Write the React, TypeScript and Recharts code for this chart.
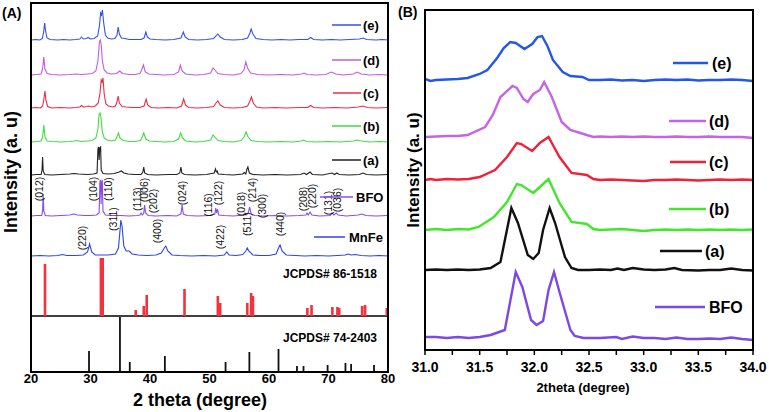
import React from 'react';
import { ComposedChart, LineChart, Line, Scatter, XAxis, YAxis, ReferenceLine } from 'recharts';

type Pt = [number, number];

// ---- panel A: full patterns, 2theta vs intensity above each trace's own baseline
const aTicks = [20, 30, 40, 50, 60, 70, 80];

const eA: Pt[] = [[20,0],[20.8,0.5],[21.5,0],[21.9,1.5],[22.1,7],[22.3,17],[22.45,9],[22.7,2],[23.2,0.5],[24.5,0],[25.5,0.5],[26.5,0],[27.5,0.5],[28.2,1],[28.5,3],[28.8,1],[29.3,1.5],[29.6,2.5],[30,1],[30.6,1.5],[31.2,4],[31.5,14],[31.7,27],[31.85,25],[32,30],[32.2,18],[32.5,5],[32.9,2],[33.5,1],[34.1,1.5],[34.45,5],[34.65,13],[34.85,6],[35.2,2],[35.8,1.5],[36.5,0.5],[37.5,0.5],[38.5,0.5],[39,2],[39.3,8],[39.55,3],[40,1],[41,0.5],[42.5,0],[44,0.5],[45.2,2],[45.6,8],[45.9,3],[46.5,0.5],[48,0],[49.5,0.5],[50.7,1.5],[51.1,4],[51.4,6],[51.8,3],[52.5,0.5],[54,0],[55.5,0.5],[56.4,2],[56.8,7],[57,11],[57.3,6],[57.8,1.5],[59,0.5],[60.5,0],[62,0.5],[63.5,0],[65,0.5],[66.5,0.5],[67,2.5],[67.5,0.5],[69,0],[70.5,0.5],[72,0],[73.5,0.5],[75.2,1],[75.8,2],[76.4,0.5],[78,0],[79,0.5],[80,0]];
const dA: Pt[] = [[20,0],[21,0.5],[21.7,1],[21.95,6],[22.15,18],[22.35,6],[22.7,1.5],[23.5,0.5],[25,0],[26.5,0.5],[27.5,1],[28.5,0.5],[29.5,1],[30.3,1.5],[30.9,4],[31.25,14],[31.5,33],[31.65,35],[31.8,30],[32,14],[32.3,5],[32.8,2],[33.5,1],[34.4,1.5],[34.9,4],[35.4,1.5],[36.5,0.5],[37.5,0.5],[38.3,1.5],[38.6,5],[38.9,10],[39.2,3],[39.8,1],[41,0.5],[42.5,0],[44,0.5],[44.8,3],[45.1,10],[45.4,4],[46,1],[47.5,0],[49,0.5],[50.2,2],[50.6,7],[50.9,5],[51.4,1.5],[52.5,0.5],[54,0],[55.3,1.5],[55.8,5],[56.1,13],[56.4,7],[56.9,2],[58,0.5],[60,0],[62,0.5],[64,0],[65.5,1],[65.9,2],[66.4,0.5],[68,0],[69.5,0.5],[70.5,3],[71.2,1],[72.5,0],[74.2,1],[74.8,3],[75.5,1],[77,0],[78.5,0.5],[80,0]];
const cA: Pt[] = [[20,0],[20.8,0.5],[21.6,0],[21.95,2],[22.15,8],[22.35,17],[22.5,8],[22.8,1.5],[23.5,0],[25,0.5],[26.5,0],[27.5,0.5],[28.2,1],[28.5,2.5],[28.8,1],[29.4,1.5],[29.7,2],[30.2,1],[30.8,2],[31.3,5],[31.6,15],[31.8,28],[31.95,26],[32.1,30],[32.3,14],[32.6,4],[33,2],[33.7,1],[34.2,2],[34.45,6],[34.65,12],[34.85,5],[35.3,1.5],[36,1],[37,0.5],[38.3,0.5],[39,2],[39.35,9],[39.6,3],[40.2,0.5],[41.5,0],[43,0.5],[44.5,0],[45.3,2],[45.65,9],[45.95,3],[46.5,0.5],[48,0],[49.5,0.5],[50.7,1.5],[51.1,5],[51.4,7],[51.8,3],[52.5,0.5],[54,0],[55.5,0.5],[56.4,2],[56.8,7],[57.05,11],[57.35,5],[57.9,1],[59,0],[61,0.5],[63,0],[65,0.5],[66.5,0.5],[67,2.5],[67.5,0.5],[69,0],[71,0.5],[73,0],[75,1],[75.8,2],[76.5,0.5],[78,0],[80,0.5]];
const bA: Pt[] = [[20,0],[21,0.5],[21.7,1],[21.95,5],[22.15,17],[22.35,5],[22.7,1],[23.5,0.5],[25,0],[26.5,0.5],[27.2,1],[27.6,1.5],[28.5,0.5],[29.5,1],[30.3,1.5],[30.9,4],[31.25,13],[31.45,28],[31.6,29],[31.75,25],[32,10],[32.3,4],[32.8,2],[33.5,1],[34.2,2],[34.5,6],[34.7,9],[34.95,4],[35.5,1.5],[36.5,0.5],[37.5,0.5],[38.4,1.5],[38.7,5],[38.95,9],[39.3,3],[39.9,1],[41,0.5],[42.5,0],[44,0.5],[44.8,3],[45.15,9],[45.45,4],[46,1],[47.5,0],[49,0.5],[50.2,2],[50.6,7],[50.9,5],[51.4,1.5],[52.5,0.5],[54,0],[55.3,1.5],[55.8,5],[56.15,10],[56.5,5],[57,1.5],[58,0.5],[60,0],[62,0.5],[64,0],[65.4,1],[65.8,2],[66.3,0.5],[68,0],[70,0.5],[72,0],[74.2,1],[74.8,2],[75.5,1],[77,0],[78.5,0.5],[80,0]];
const aA: Pt[] = [[20,0],[21,0.5],[21.7,0.5],[21.85,5],[21.95,18],[22.05,4],[22.3,0.5],[23.5,0],[25,0.5],[26.5,1],[27.3,1.5],[28,1],[29.5,0.5],[30.5,1],[31.1,2],[31.25,26],[31.35,28],[31.45,15],[31.55,27],[31.7,28],[31.8,5],[32.1,1.5],[33,1],[34,1.5],[34.8,3],[35.2,4],[35.6,2],[36.3,1],[37.5,0.5],[38.5,0.5],[38.8,3],[38.95,8],[39.1,2],[39.6,0.5],[41,0],[43,0.5],[44.5,0.5],[45,2],[45.2,8],[45.35,2],[45.8,0.5],[47.5,0],[49.5,0.5],[50.8,2],[51,6],[51.15,3],[51.3,4],[51.45,1],[52.5,0.5],[54,0],[55.6,1],[55.85,2.5],[56.1,1],[56.3,6],[56.45,8],[56.7,2],[57.3,0.5],[59,0],[61,0.5],[63,0],[65.3,0.5],[65.9,2],[66.3,0.5],[66.9,3],[67.3,0.5],[69,0],[70.6,2],[71,0.5],[71.4,2],[71.8,0.5],[73.5,0],[75.2,0.5],[75.8,2],[76.4,0.5],[78,0],[80,0.5]];
const bfoA: Pt[] = [[20,0],[21,0.5],[21.8,0.5],[21.95,5],[22.05,22],[22.15,5],[22.4,0.5],[23.5,0],[25,0.5],[26.5,1],[27.2,2],[27.8,1],[29,0.5],[30,0.5],[31,1],[31.45,3],[31.58,34],[31.68,36],[31.78,12],[31.88,34],[31.98,36],[32.1,5],[32.5,1],[33.5,0.5],[35,0.5],[36.5,0],[37.8,0.5],[38.3,1],[38.5,3],[38.7,1],[38.95,3],[39.1,11],[39.25,3],[39.7,0.5],[41,0],[43,0.5],[44.5,0],[45.2,2],[45.4,11],[45.6,2],[46.2,0.5],[48,0],[50,0.5],[50.9,2],[51.05,8],[51.2,3],[51.35,7],[51.55,1],[52.5,0.5],[54,0],[55.7,1],[55.95,3],[56.15,1],[56.5,3],[56.75,9],[57,2],[57.6,0.5],[59,0],[61,0.5],[63,0],[65,0.5],[66.2,1],[66.4,3],[66.6,1],[66.9,4],[67.2,1],[68.5,0],[70.3,0.5],[70.6,3],[70.9,1],[71.3,3],[71.6,1],[73,0],[75,1],[75.6,2],[76.3,0.5],[78,0],[80,0.5]];
const mnfeA: Pt[] = [[20,0],[21.5,0.5],[23,0],[24.5,0.5],[25.3,1.5],[26,0.5],[27.5,0.5],[28.8,1],[29.5,4],[29.85,12],[30.2,4],[30.8,1],[31.8,1],[33,1],[34.2,2],[34.7,8],[34.95,25],[35.1,36],[35.3,30],[35.6,10],[36,5],[36.5,5],[37,2],[38,1],[39.5,0.5],[41,1],[41.9,3],[42.4,8],[42.65,10],[43,5],[43.7,1],[45,0.5],[47,0],[49,0.5],[51,0],[52.5,1],[52.9,4],[53.3,1],[54.5,0.5],[55.6,1.5],[56.1,5],[56.35,8],[56.6,5],[57.3,1],[58.5,0.5],[60,0.5],[61.2,2],[61.6,8],[61.85,11],[62.2,5],[62.9,1],[64.5,0.5],[66,0],[68,0.5],[70,0],[71.5,0.5],[72.8,1],[73.3,2],[73.8,1],[74.5,1.5],[75.5,0.5],[77,0],[78.5,0.5],[80,0]];

// reference cards: [2theta, relative height]
const jcpds86: Pt[] = [[22.35,52],[31.75,58],[32.05,58],[37.6,6],[38.95,10],[39.45,21],[45.8,27],[51.4,20],[51.8,13],[56.35,13],[57,23],[57.3,20],[66.45,8],[67.15,11],[70.65,9],[71.5,9],[71.8,8],[75.65,10],[76.15,11],[79.8,8]];
const jcpds74: Pt[] = [[29.75,21],[34.95,55],[36.6,10],[42.5,16],[52.7,10],[56.7,20],[61.6,23],[64.7,6],[65.8,6],[69.85,7],[72.85,9],[73.8,8],[77.65,7]];

// miller indices: [2theta, height, label]
const bfoHkl: [number, number, string][] = [[21.3,183,'(012)'],[30.5,183,'(104)'],[33,183,'(110)'],[37.75,173,'(113)'],[39,182,'(006)'],[40.55,171,'(202)'],[45.3,179,'(024)'],[49.8,167,'(116)'],[51.5,179,'(122)'],[55.25,168,'(018)'],[57.1,182,'(214)'],[58.8,166,'(300)'],[65.75,173,'(208)'],[67.2,176,'(220)'],[69.95,169,'(131)'],[71.4,172,'(036)']];
const mnfeHkl: [number, number, string][] = [[28.5,134,'(220)'],[33.8,153,'(311)'],[41.1,141,'(400)'],[51.75,135,'(422)'],[56.25,148,'(511)'],[61.85,148,'(440)']];

// ---- panel B: zoom on the (104)/(110) doublet
const bTicks = [31, 31.25, 31.5, 31.75, 32, 32.25, 32.5, 32.75, 33, 33.25, 33.5, 33.75, 34];

const eB: Pt[] = [[31,1],[31.05,-1],[31.1,0],[31.2,0.5],[31.3,1],[31.39,2],[31.5,6],[31.57,10],[31.66,22],[31.72,32],[31.78,38],[31.83,37],[31.91,31],[31.98,36],[32.03,43],[32.07,44],[32.12,34],[32.17,20],[32.26,8],[32.33,4],[32.44,3],[32.5,0],[32.6,0],[32.7,0.5],[32.8,-0.5],[32.9,0],[33,-1],[33.1,0],[33.2,0.5],[33.3,0],[33.4,0.5],[33.5,-0.5],[33.6,0],[33.7,0],[33.8,0.5],[33.9,0],[34,-1]];
const dB: Pt[] = [[31,0],[31.1,0.5],[31.2,1],[31.3,1],[31.39,2],[31.55,10],[31.62,22],[31.69,40],[31.8,51],[31.84,49],[31.9,38],[31.94,35],[31.99,43],[32.05,47],[32.09,55],[32.16,40],[32.25,15],[32.33,7],[32.48,2],[32.54,0],[32.6,0.5],[32.7,0],[32.8,0.5],[32.9,0],[33,0.5],[33.1,0],[33.2,0],[33.3,0.5],[33.4,0],[33.5,0],[33.6,0.5],[33.7,0],[33.8,0],[33.9,0],[34,-1]];
const cB: Pt[] = [[31,0],[31.05,1],[31.1,0],[31.2,1],[31.3,0.5],[31.4,1],[31.5,3],[31.64,10],[31.75,23],[31.84,37],[31.88,36],[31.98,29],[32.05,37],[32.13,43],[32.23,23],[32.34,7],[32.48,5],[32.54,1],[32.6,0],[32.7,0.5],[32.8,0],[32.9,-0.5],[33,-1],[33.1,0],[33.2,0],[33.3,0.5],[33.4,0],[33.5,-0.5],[33.6,0],[33.7,0.5],[33.8,0],[33.9,0.5],[34,0]];
const bB: Pt[] = [[31,0],[31.1,1],[31.2,0],[31.3,1],[31.4,0.5],[31.49,3],[31.63,13],[31.75,28],[31.84,46],[31.88,45],[31.99,37],[32.05,43],[32.13,51],[32.23,27],[32.34,8],[32.48,6],[32.54,1],[32.6,0],[32.7,0.5],[32.8,1],[32.9,0],[33,-1],[33.1,0],[33.2,0.5],[33.3,0],[33.4,0.5],[33.5,0],[33.6,0.5],[33.7,0],[33.8,0.5],[33.9,0],[34,0.5]];
const aB: Pt[] = [[31,0],[31.1,0.5],[31.2,0],[31.3,0.5],[31.4,0],[31.5,0.5],[31.6,2],[31.69,8],[31.79,62],[31.85,47],[31.94,15],[31.99,11],[32.04,17],[32.08,40],[32.14,62],[32.19,47],[32.28,13],[32.34,2],[32.4,0],[32.5,0],[32.6,0.5],[32.7,0],[32.76,1.5],[32.82,0],[32.9,2],[33,0.5],[33.1,0],[33.2,0.5],[33.28,2],[33.35,0],[33.5,-0.5],[33.6,0],[33.7,0],[33.8,1.5],[33.9,0],[34,-0.5]];
const bfoB: Pt[] = [[31,1],[31.1,1],[31.2,0],[31.3,1],[31.4,0],[31.5,1],[31.6,3],[31.73,8],[31.83,66],[31.89,51],[31.97,18],[32.02,13],[32.08,17],[32.13,48],[32.18,66],[32.23,46],[32.33,8],[32.37,2],[32.45,0],[32.6,0],[32.75,1],[32.8,-1],[32.9,1.5],[33,0],[33.1,0],[33.2,-1],[33.3,0.5],[33.4,-1],[33.5,-1],[33.6,-0.5],[33.7,-1],[33.8,0.5],[33.9,-1],[34,-2]];

const FONT = 'Arial, "Liberation Sans", sans-serif';

const shift = (pts: Pt[], base: number) => pts.map(([x, y]) => ({ x, y: y + base }));
const sticks = (pts: Pt[], base: number) =>
  pts.flatMap(([x, h]) => [{ x, y: base }, { x, y: base + h }, { x, y: null }]);
const hkl = (rows: [number, number, string][]) => rows.map(([x, y, t]) => ({ x, y, t }));

const HklLabel = (p: any) => (
  <text
    x={p.cx}
    y={p.cy}
    transform={`rotate(-90 ${p.cx} ${p.cy})`}
    textAnchor="middle"
    dominantBaseline="central"
    fontSize={10.5}
    fontFamily={FONT}
    fill="#111"
  >
    {p.payload.t}
  </text>
);

const seriesA = [
  { key: 'e', data: eA, base: 332, color: '#3251e6' },
  { key: 'd', data: dA, base: 297, color: '#c25be0' },
  { key: 'c', data: cA, base: 264, color: '#f02a45' },
  { key: 'b', data: bA, base: 230, color: '#3fdd3f' },
  { key: 'a', data: aA, base: 197, color: '#222222' },
  { key: 'bfo', data: bfoA, base: 156, color: '#8a4be8' },
  { key: 'mnfe', data: mnfeA, base: 116, color: '#2f45e3' },
];

const seriesB = [
  { key: 'e', data: eB, base: 270, color: '#2457e8' },
  { key: 'd', data: dB, base: 213, color: '#c565e3' },
  { key: 'c', data: cB, base: 170, color: '#ee2238' },
  { key: 'b', data: bB, base: 120, color: '#43e62d' },
  { key: 'a', data: aB, base: 80, color: '#111111' },
  { key: 'bfo', data: bfoB, base: 12, color: '#7c48e6' },
];

const legendA = [
  { label: '(e)', color: '#3251e6', x1: 332, x2: 361, y: 25, tx: 363 },
  { label: '(d)', color: '#c25be0', x1: 332, x2: 361, y: 60, tx: 363 },
  { label: '(c)', color: '#f02a45', x1: 333, x2: 361, y: 93, tx: 363 },
  { label: '(b)', color: '#3fdd3f', x1: 332, x2: 361, y: 126, tx: 363 },
  { label: '(a)', color: '#222222', x1: 332, x2: 361, y: 160, tx: 363 },
  { label: 'BFO', color: '#8a4be8', x1: 320, x2: 353, y: 197, tx: 356 },
  { label: 'MnFe', color: '#2f45e3', x1: 314, x2: 345, y: 237, tx: 349 },
];

const legendB = [
  { label: '(e)', color: '#2457e8', x1: 673, x2: 708, y: 63, tx: 712 },
  { label: '(d)', color: '#c565e3', x1: 669, x2: 706, y: 121, tx: 709 },
  { label: '(c)', color: '#ee2238', x1: 670, x2: 706, y: 162, tx: 709 },
  { label: '(b)', color: '#43e62d', x1: 669, x2: 706, y: 209, tx: 709 },
  { label: '(a)', color: '#111111', x1: 660, x2: 702, y: 251, tx: 705 },
  { label: 'BFO', color: '#7c48e6', x1: 655, x2: 705, y: 307, tx: 709 },
];

export default function App() {
  return (
    <div style={{ position: 'absolute', left: 0, top: 0, width: 769, height: 412, background: '#fff', fontFamily: FONT }}>
      <div style={{ position: 'absolute', left: 0, top: 0 }}>
        <ComposedChart width={400} height={412} margin={{ top: 3, right: 12, bottom: 0, left: 31 }}>
          <XAxis
            dataKey="x"
            type="number"
            domain={[20, 80]}
            ticks={aTicks}
            allowDataOverflow
            height={40}
            tickSize={0}
            tickMargin={2}
            axisLine={{ stroke: '#000', strokeWidth: 2 }}
            tick={{ fill: '#000', fontSize: 13, fontWeight: 700, fontFamily: FONT }}
          />
          <YAxis hide type="number" domain={[0, 369]} allowDataOverflow />
          <ReferenceLine y={56} stroke="#000" strokeWidth={1.5} />
          {seriesA.map((s) => (
            <Line
              key={s.key}
              data={shift(s.data, s.base)}
              dataKey="y"
              stroke={s.color}
              strokeWidth={1.1}
              dot={false}
              isAnimationActive={false}
            />
          ))}
          <Line data={sticks(jcpds86, 56)} dataKey="y" stroke="#f2333f" strokeWidth={2.6} dot={false} isAnimationActive={false} />
          <Line data={sticks(jcpds74, 0)} dataKey="y" stroke="#111" strokeWidth={1.8} dot={false} isAnimationActive={false} />
          <Scatter data={hkl(bfoHkl)} dataKey="y" shape={HklLabel} isAnimationActive={false} />
          <Scatter data={hkl(mnfeHkl)} dataKey="y" shape={HklLabel} isAnimationActive={false} />
        </ComposedChart>
      </div>

      <div style={{ position: 'absolute', left: 400, top: 0 }}>
        <LineChart width={369} height={412} margin={{ top: 10, right: 16, bottom: 0, left: 25 }}>
          <XAxis
            dataKey="x"
            type="number"
            domain={[31, 34]}
            ticks={bTicks}
            allowDataOverflow
            height={62}
            tickSize={5}
            tickMargin={7}
            interval={0}
            tickFormatter={(v: number) => ((v * 2) % 1 === 0 ? v.toFixed(1) : '')}
            axisLine={{ stroke: '#000', strokeWidth: 2 }}
            tickLine={{ stroke: '#000', strokeWidth: 1.5 }}
            tick={{ fill: '#000', fontSize: 14, fontWeight: 700, fontFamily: FONT }}
          />
          <YAxis hide type="number" domain={[0, 340]} allowDataOverflow />
          {seriesB.map((s) => (
            <Line
              key={s.key}
              data={shift(s.data, s.base)}
              dataKey="y"
              stroke={s.color}
              strokeWidth={2.4}
              dot={false}
              isAnimationActive={false}
            />
          ))}
        </LineChart>
      </div>

      <svg width={769} height={412} style={{ position: 'absolute', left: 0, top: 0, pointerEvents: 'none' }}>
        <rect x={31} y={3} width={357} height={369} fill="none" stroke="#000" strokeWidth={2} />
        <rect x={425} y={10} width={328} height={340} fill="none" stroke="#000" strokeWidth={2} />

        <text x={2} y={18} fontSize={14} fontWeight={700} fill="#000">(A)</text>
        <text x={398} y={17} fontSize={14} fontWeight={700} fill="#000">(B)</text>

        <text x={11} y={172} transform="rotate(-90 11 172)" textAnchor="middle" dominantBaseline="central" fontSize={18} fontWeight={700} fill="#000">
          Intensity (a. u)
        </text>
        <text x={200} y={400} textAnchor="middle" dominantBaseline="central" fontSize={18} fontWeight={700} fill="#000">
          2 theta (degree)
        </text>
        <text x={413} y={170} transform="rotate(-90 413 170)" textAnchor="middle" dominantBaseline="central" fontSize={17} fontWeight={700} fill="#000">
          Intensity (a. u)
        </text>
        <text x={583} y={387} textAnchor="middle" dominantBaseline="central" fontSize={13} fontWeight={700} fill="#000">
          2theta (degree)
        </text>

        <text x={330} y={274} textAnchor="middle" dominantBaseline="central" fontSize={12} fontWeight={700} fill="#000">JCPDS# 86-1518</text>
        <text x={330} y={338} textAnchor="middle" dominantBaseline="central" fontSize={12} fontWeight={700} fill="#000">JCPDS# 74-2403</text>

        {legendA.map((l) => (
          <g key={'la' + l.label}>
            <line x1={l.x1} x2={l.x2} y1={l.y} y2={l.y} stroke={l.color} strokeWidth={1.5} />
            <text x={l.tx} y={l.y} dominantBaseline="central" fontSize={13} fontWeight={700} fill="#000">{l.label}</text>
          </g>
        ))}
        {legendB.map((l) => (
          <g key={'lb' + l.label}>
            <line x1={l.x1} x2={l.x2} y1={l.y} y2={l.y} stroke={l.color} strokeWidth={2.5} />
            <text x={l.tx} y={l.y} dominantBaseline="central" fontSize={16} fontWeight={700} fill="#000">{l.label}</text>
          </g>
        ))}
      </svg>
    </div>
  );
}
